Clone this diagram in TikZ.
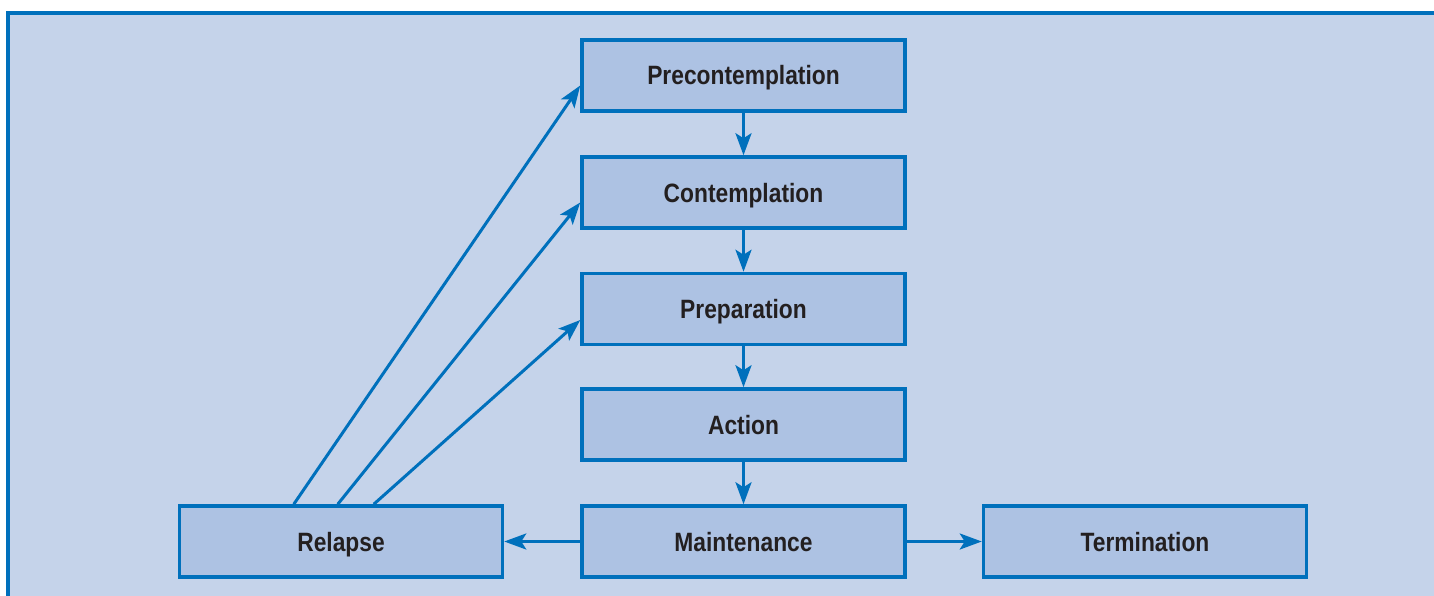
\documentclass[tikz,border=0pt]{standalone}
\usepackage{fontspec}
\setmainfont{Liberation Sans}[FakeStretch=0.86]
\usetikzlibrary{arrows.meta,calc}
\definecolor{bg}{HTML}{C5D3EA}
\definecolor{boxfill}{HTML}{ADC2E3}
\definecolor{blu}{HTML}{0070BC}
\definecolor{txt}{HTML}{231F20}
\tikzset{
  stage/.style={draw=blu, fill=boxfill, line width=3.5pt, rectangle,
    minimum width=323pt, minimum height=71pt, inner sep=0pt,
    text height=24pt, text depth=5pt,
    font=\fontsize{26.5}{30}\selectfont\bfseries, text=txt},
  conn/.style={draw=blu, line width=3pt,
    -{Stealth[length=22pt,width=16pt,inset=5pt]}}
}
\begin{document}
\begin{tikzpicture}[x=1pt,y=-1pt]
\useasboundingbox (0,0) rectangle (1434,596);
\begin{scope}
\clip (0,0) rectangle (1434,596);
\draw[blu, fill=bg, line width=4pt] (8,13) rectangle (1450,620);
\end{scope}
\node[stage] (pre) at (743.5,75.5) {Precontemplation};
\node[stage] (con) at (743.5,192.5) {Contemplation};
\node[stage] (prep) at (743.5,309) {Preparation};
\node[stage] (act) at (743.5,424.5) {Action};
\node[stage] (main) at (743.5,541.5) {Maintenance};
\node[stage] (rel) at (341,541.5) {Relapse};
\node[stage] (term) at (1145,541.5) {Termination};
\draw[conn] (pre) -- (con);
\draw[conn] (con) -- (prep);
\draw[conn] (prep) -- (act);
\draw[conn] (act) -- (main);
\draw[conn] (main) -- (rel);
\draw[conn] (main) -- (term);
\coordinate (r1) at ($(rel.north west)+(116,0)$);
\coordinate (r2) at ($(rel.north west)+(160,0)$);
\coordinate (r3) at ($(rel.north west)+(196,0)$);
\coordinate (p1) at ($(pre.west)+(0,10)$);
\coordinate (p2) at ($(con.west)+(0,10)$);
\coordinate (p3) at ($(prep.west)+(0,11)$);
\draw[conn] (r1) -- (p1);
\draw[conn] (r2) -- (p2);
\draw[conn] (r3) -- (p3);
\end{tikzpicture}
\end{document}
